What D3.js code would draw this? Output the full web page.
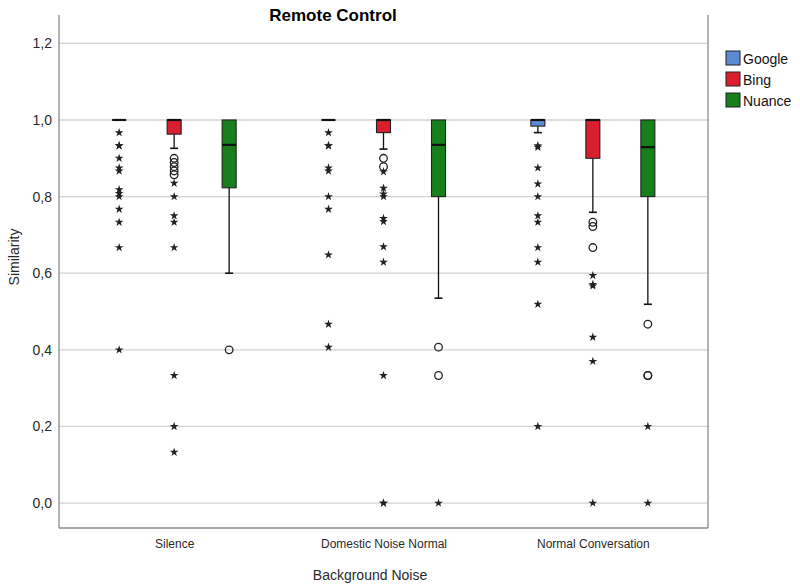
<!DOCTYPE html>
<html>
<head>
<meta charset="utf-8">
<script src="https://cdn.jsdelivr.net/npm/d3@7/dist/d3.min.js"></script>
<style>
  html, body { margin: 0; padding: 0; background: #fff; }
  svg { display: block; font-family: "Liberation Sans", Arial, sans-serif; }
</style>
</head>
<body>
<svg id="chart" width="800" height="587"></svg>
<script>
// Categories and series
const categories = ["Silence", "Domestic Noise Normal", "Normal Conversation"];
const series = ["Google", "Bing", "Nuance"];
const seriesColors = ["#5a8bd2", "#d91e2e", "#17801a"];
const yTicks = [0, 0.2, 0.4, 0.6, 0.8, 1.0, 1.2];

// Box statistics per category: [lower whisker, Q1, median, Q3, upper whisker]
const googleStats = [
  [1.0, 1.0, 1.0, 1.0, 1.0],
  [1.0, 1.0, 1.0, 1.0, 1.0],
  [0.967, 0.984, 1.0, 1.0, 1.0]
];
const bingStats = [
  [0.926, 0.963, 1.0, 1.0, 1.0],
  [0.924, 0.967, 1.0, 1.0, 1.0],
  [0.759, 0.9, 1.0, 1.0, 1.0]
];
const nuanceStats = [
  [0.6, 0.823, 0.935, 1.0, 1.0],
  [0.535, 0.8, 0.935, 1.0, 1.0],
  [0.519, 0.8, 0.929, 1.0, 1.0]
];

// Outliers (circles) per category
const googleOutliers = [[], [], []];
const bingOutliers = [
  [0.9, 0.889, 0.878, 0.867, 0.857],
  [0.9, 0.878],
  [0.733, 0.722, 0.667]
];
const nuanceOutliers = [
  [0.4],
  [0.407, 0.333],
  [0.467, 0.333, 0.333]
];

// Extreme values (stars) per category
const googleExtremes = [
  [0.967, 0.933, 0.933, 0.9, 0.875, 0.867, 0.818, 0.808, 0.8, 0.767, 0.733, 0.667, 0.4],
  [0.967, 0.933, 0.933, 0.875, 0.867, 0.8, 0.767, 0.648, 0.467, 0.407],
  [0.933, 0.929, 0.875, 0.833, 0.8, 0.75, 0.733, 0.667, 0.629, 0.519, 0.2]
];
const bingExtremes = [
  [0.835, 0.8, 0.75, 0.733, 0.667, 0.333, 0.2, 0.133],
  [0.865, 0.822, 0.807, 0.8, 0.743, 0.735, 0.669, 0.629, 0.333, 0.0, 0.0],
  [0.594, 0.571, 0.567, 0.433, 0.37, 0.0]
];
const nuanceExtremes = [
  [],
  [0.0],
  [0.2, 0.0]
];

const allStats = [googleStats, bingStats, nuanceStats];
const allOutliers = [googleOutliers, bingOutliers, nuanceOutliers];
const allExtremes = [googleExtremes, bingExtremes, nuanceExtremes];

const svg = d3.select("#chart");
const plot = { left: 59, right: 708, top: 15, bottom: 528 };

const y = d3.scaleLinear().domain([-0.065, 1.274]).range([plot.bottom, plot.top]);
const x = d3.scalePoint().domain(categories).range([plot.left, plot.right]).padding(0.55);
const xs = d3.scalePoint().domain(series).range([-55, 55]);
const boxW = 14, capW = 8;

// Gridlines
svg.append("g")
  .selectAll("line")
  .data(yTicks)
  .join("line")
  .attr("x1", plot.left).attr("x2", plot.right)
  .attr("y1", d => y(d)).attr("y2", d => y(d))
  .attr("stroke", "#d2d2d2").attr("stroke-width", 1.3);

// Y axis
const yAxis = d3.axisLeft(y).tickValues(yTicks).tickSize(0).tickPadding(7)
  .tickFormat(d => d3.format(".1f")(d).replace(".", ","));
const yg = svg.append("g").attr("transform", `translate(${plot.left},0)`).call(yAxis);
yg.select(".domain").remove();
yg.selectAll("text").attr("font-size", 14).attr("fill", "#2a2a2a")
  .attr("font-family", "'Liberation Sans', Arial, sans-serif");

// X axis labels
const xAxis = d3.axisBottom(x).tickSize(0).tickPadding(11);
const xg = svg.append("g").attr("transform", `translate(0,${plot.bottom})`).call(xAxis);
xg.select(".domain").remove();
xg.selectAll("text").attr("font-size", 12).attr("fill", "#2a2a2a")
  .attr("font-family", "'Liberation Sans', Arial, sans-serif");

// Frame lines
svg.append("line").attr("x1", plot.left).attr("x2", plot.left)
  .attr("y1", plot.top).attr("y2", plot.bottom).attr("stroke", "#8a8a8a").attr("stroke-width", 1.3);
svg.append("line").attr("x1", plot.right).attr("x2", plot.right)
  .attr("y1", plot.top).attr("y2", plot.bottom).attr("stroke", "#8a8a8a").attr("stroke-width", 1.3);
svg.append("line").attr("x1", plot.left).attr("x2", plot.right)
  .attr("y1", plot.bottom).attr("y2", plot.bottom).attr("stroke", "#8a8a8a").attr("stroke-width", 1.5);

// Boxes
const boxData = [];
series.forEach((s, si) => {
  categories.forEach((c, ci) => {
    const [lo, q1, med, q3, hi] = allStats[si][ci];
    boxData.push({ s, si, c, lo, q1, med, q3, hi,
      outliers: allOutliers[si][ci], extremes: allExtremes[si][ci],
      cx: x(c) + xs(s) });
  });
});

const boxes = svg.append("g").selectAll("g").data(boxData).join("g");

// Whiskers
boxes.each(function(d) {
  const g = d3.select(this);
  if (d.lo < d.q1) {
    g.append("line").attr("x1", d.cx).attr("x2", d.cx)
      .attr("y1", y(d.q1)).attr("y2", y(d.lo)).attr("stroke", "#111").attr("stroke-width", 1.3);
    g.append("line").attr("x1", d.cx - capW / 2).attr("x2", d.cx + capW / 2)
      .attr("y1", y(d.lo)).attr("y2", y(d.lo)).attr("stroke", "#111").attr("stroke-width", 1.6);
  }
  if (d.hi > d.q3) {
    g.append("line").attr("x1", d.cx).attr("x2", d.cx)
      .attr("y1", y(d.q3)).attr("y2", y(d.hi)).attr("stroke", "#111").attr("stroke-width", 1.3);
    g.append("line").attr("x1", d.cx - capW / 2).attr("x2", d.cx + capW / 2)
      .attr("y1", y(d.hi)).attr("y2", y(d.hi)).attr("stroke", "#111").attr("stroke-width", 1.6);
  }
  g.append("rect")
    .attr("x", d.cx - boxW / 2).attr("width", boxW)
    .attr("y", y(d.q3)).attr("height", Math.max(0, y(d.q1) - y(d.q3)))
    .attr("fill", seriesColors[d.si]).attr("stroke", "#222").attr("stroke-width", 1.1);
  g.append("line").attr("x1", d.cx - boxW / 2).attr("x2", d.cx + boxW / 2)
    .attr("y1", y(d.med)).attr("y2", y(d.med)).attr("stroke", "#111").attr("stroke-width", 2.2);
});

// Outlier circles
boxes.selectAll("circle").data(d => d.outliers.map(v => ({ v, cx: d.cx })))
  .join("circle")
  .attr("cx", d => d.cx).attr("cy", d => y(d.v)).attr("r", 3.8)
  .attr("fill", "none").attr("stroke", "#222").attr("stroke-width", 1.3);

// Extreme stars
const star = d3.symbol().type(d3.symbolStar).size(24);
boxes.selectAll("path.ext").data(d => d.extremes.map(v => ({ v, cx: d.cx })))
  .join("path").attr("class", "ext")
  .attr("d", star)
  .attr("transform", d => `translate(${d.cx},${y(d.v)})`)
  .attr("fill", "#222");

// Title
svg.append("text").attr("x", 333).attr("y", 21).attr("text-anchor", "middle")
  .attr("font-size", 17).attr("font-weight", "bold").attr("fill", "#000")
  .text("Remote Control");

// Axis titles
svg.append("text").attr("transform", "translate(19,257) rotate(-90)")
  .attr("text-anchor", "middle").attr("font-size", 14).attr("fill", "#2a2a2a")
  .text("Similarity");
svg.append("text").attr("x", 370).attr("y", 580).attr("text-anchor", "middle")
  .attr("font-size", 14).attr("fill", "#2a2a2a")
  .text("Background Noise");

// Legend
const legend = svg.append("g").attr("transform", "translate(726,51)");
const li = legend.selectAll("g").data(series).join("g")
  .attr("transform", (d, i) => `translate(0,${i * 21})`);
li.append("rect").attr("width", 14).attr("height", 14)
  .attr("fill", (d, i) => seriesColors[i]).attr("stroke", "#222").attr("stroke-width", 1);
li.append("text").attr("x", 17).attr("y", 12.5).attr("font-size", 14).attr("fill", "#111")
  .text(d => d);
</script>
</body>
</html>
